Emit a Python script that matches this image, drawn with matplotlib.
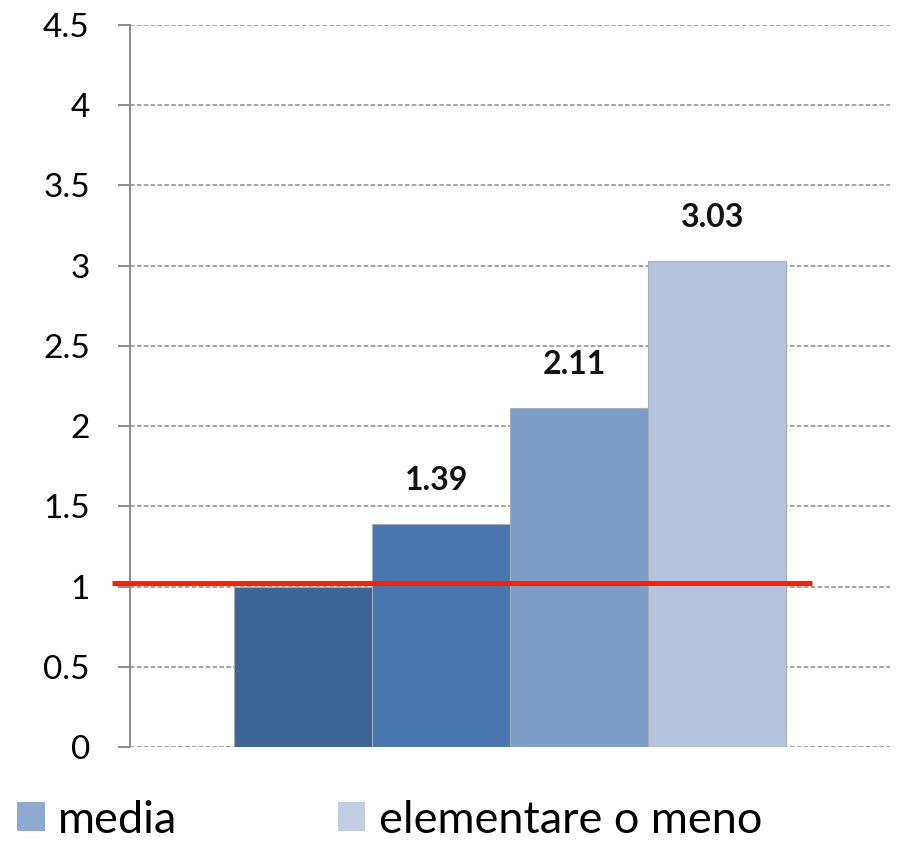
import matplotlib.pyplot as plt
from matplotlib.patches import Patch

# data
values = [1.0, 1.39, 2.11, 3.03]
labels = ['', '1.39', '2.11', '3.03']
bar_colors = ['#3c6494', '#4877b0', '#7f9dc9', '#b4c3de']
ref_level = 1.02
legend_names = ['media', 'elementare o meno']
legend_colors = ['#8eaad0', '#c3cde3']
yticks = [0, 0.5, 1, 1.5, 2, 2.5, 3, 3.5, 4, 4.5]

plt.rcParams['font.family'] = ['Lato', 'DejaVu Sans']

fig = plt.figure(figsize=(8.97, 8.42), dpi=100)
ax = fig.add_axes([0.145, 0.1128, 0.847, 0.8575])

x = list(range(len(values)))
ax.bar(x, values, width=1.0, color=bar_colors, edgecolor='#a6adb8',
       linewidth=0.8, zorder=3)

for xi, v, lab in zip(x, values, labels):
    if lab:
        ax.annotate(lab, (xi, v), xytext=(-3, 21), textcoords='offset points',
                    ha='center', va='bottom', fontsize=23, fontweight='bold',
                    color='#111111')

# red reference line, runs a little past the y axis
ax.plot([-1.384, 3.688], [ref_level, ref_level], color='#ff2000', lw=3.6,
        clip_on=False, zorder=5, solid_capstyle='butt')

ax.set_xlim(-1.254, 4.254)
ax.set_ylim(0, 4.5)
ax.set_yticks(yticks)
ax.set_yticklabels(['0', '0.5', '1', '1.5', '2', '2.5', '3', '3.5', '4', '4.5'])
ax.set_xticks([])
ax.yaxis.grid(True, linestyle=(0, (3, 1.5)), color='#8c8c8c', lw=1.1, zorder=0)
ax.set_axisbelow(True)

for s in ['top', 'right', 'bottom']:
    ax.spines[s].set_visible(False)
ax.spines['left'].set_color('#8c8c8c')
ax.spines['left'].set_linewidth(1.4)
ax.tick_params(axis='y', length=9, width=1.4, color='#8c8c8c',
               labelsize=24, pad=20)

handles = [Patch(facecolor=c, edgecolor='none') for c in legend_colors]
fig.legend(handles, legend_names, loc='lower left',
           bbox_to_anchor=(-0.001, -0.02), ncol=2, frameon=False,
           fontsize=32.5, handlelength=0.61, handleheight=0.61,
           handletextpad=0.3, columnspacing=3.55, borderaxespad=0)

fig.savefig('out.png', dpi=100)
